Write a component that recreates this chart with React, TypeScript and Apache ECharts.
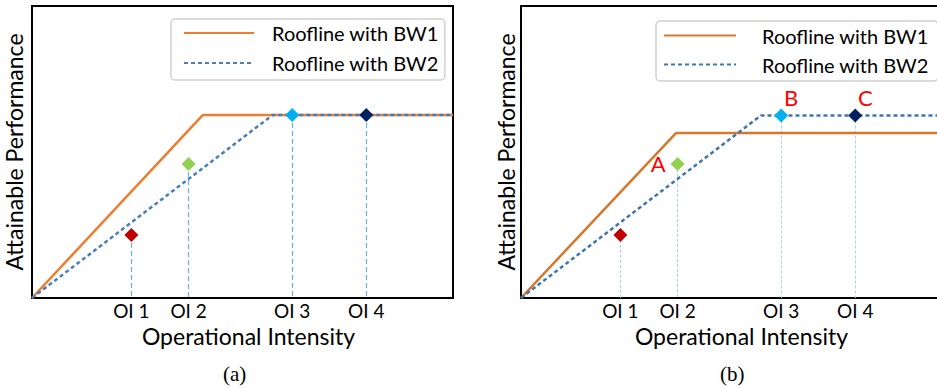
import React, { useEffect, useRef } from "react";
import * as echarts from "echarts";

const oiLabels = ["OI 1", "OI 2", "OI 3", "OI 4"];
const oiX = [2.36, 3.72, 6.18, 7.94];
const pointYa = [2.16, 4.59, 6.27, 6.27];
const pointYb = [2.16, 4.59, 6.25, 6.25];
const markerColors = ["#c00000", "#92d050", "#00b0f0", "#002060"];
const pointTagsB = ["", "A", "B", "C"];

const bw1A: number[][] = [[0, 0], [4.06, 6.27], [10, 6.27]];
const bw2A: number[][] = [[0, 0], [5.72, 6.27], [10, 6.27]];
const bw1B: number[][] = [[0, 0], [3.68, 5.65], [10, 5.65]];
const bw2B: number[][] = [[0, 0], [5.7, 6.25], [10, 6.25]];

const seriesNames = ["Roofline with BW1", "Roofline with BW2"];
const suffixB = " (b)";

const FONT = "Lato";

export default function App() {
  const ref = useRef<HTMLDivElement>(null);
  useEffect(() => {
    if (!ref.current) return;
    const chart = echarts.init(ref.current, undefined, { renderer: "svg" });

    const grids = [
      { left: 32, top: 6, width: 421, height: 292 },
      { left: 521, top: 6, width: 421, height: 292 },
    ].map((g) => ({
      ...g,
      show: true,
      outerBoundsMode: "none",
      containLabel: false,
      borderColor: "#000",
      borderWidth: 2,
      backgroundColor: "transparent",
    }));

    const xAxisBase = (gi: number, nameGap: number, namePad: number) => ({
      type: "value",
      gridIndex: gi,
      min: 0,
      max: 10,
      axisLine: { show: false },
      axisTick: { show: false },
      splitLine: { show: false },
      axisLabel: {
        customValues: oiX,
        formatter: (v: number) => {
          const i = oiX.findIndex((x) => Math.abs(x - v) < 1e-6);
          return i >= 0 ? oiLabels[i] : "";
        },
        fontFamily: FONT,
        fontSize: 19,
        color: "#000",
        margin: 3,
      },
      name: "Operational Intensity",
      nameLocation: "middle",
      nameGap,
      nameTextStyle: {
        fontFamily: FONT,
        fontSize: 23,
        color: "#000",
        padding: [0, 0, 0, namePad],
      },
    });

    const yAxisBase = (gi: number, nameGap: number) => ({
      type: "value",
      gridIndex: gi,
      min: 0,
      max: 10,
      axisLine: { show: false },
      axisTick: { show: false },
      splitLine: { show: false },
      axisLabel: { show: false },
      name: "Attainable Performance",
      nameLocation: "middle",
      nameGap,
      nameTextStyle: { fontFamily: FONT, fontSize: 23, color: "#000" },
    });

    const roof = (
      name: string,
      gi: number,
      data: number[][],
      color: string,
      dashed: boolean
    ) => ({
      type: "line",
      name,
      xAxisIndex: gi,
      yAxisIndex: gi,
      data,
      symbol: "none",
      z: dashed ? 3 : 2,
      lineStyle: {
        color,
        width: 2.5,
        type: dashed ? [4, 3] : "solid",
      },
      itemStyle: { color },
    });

    const tagLabel = (text: string, pos: "left" | "top") =>
      pos === "left"
        ? {
            show: true,
            position: "left",
            distance: 5,
            formatter: text,
            color: "#ff0000",
            fontFamily: FONT,
            fontSize: 22,
          }
        : {
            show: true,
            position: "top",
            distance: 0,
            offset: [10, 0],
            formatter: text,
            color: "#ff0000",
            fontFamily: FONT,
            fontSize: 22,
          };

    const points = (
      gi: number,
      ys: number[],
      dropColor: string,
      dropWidth: number,
      dash: number[],
      tags: string[] | null
    ) => ({
      type: "scatter",
      xAxisIndex: gi,
      yAxisIndex: gi,
      symbol: "diamond",
      symbolSize: 14,
      z: 5,
      data: oiX.map((x, i) => ({
        value: [x, ys[i]],
        itemStyle: { color: markerColors[i], opacity: 1 },
        label:
          tags && tags[i]
            ? tagLabel(tags[i], i === 1 ? "left" : "top")
            : { show: false },
      })),
      markLine: {
        silent: true,
        symbol: "none",
        z: 1,
        label: { show: false },
        lineStyle: { color: dropColor, width: dropWidth, type: dash, opacity: 1 },
        data: oiX.map((x, i) => [
          { coord: [x, ys[i]] },
          { coord: [x, 0] },
        ]),
      },
    });

    const legendBase = {
      orient: "vertical",
      selectedMode: false,
      itemWidth: 70,
      itemHeight: 14,
      itemGap: 4,
      backgroundColor: "#fff",
      borderColor: "#d0d0d0",
      borderWidth: 1.5,
      borderRadius: 4,
      itemStyle: { opacity: 0 },
    };

    const option: any = {
      animation: false,
      grid: grids,
      xAxis: [xAxisBase(0, 23, 12), xAxisBase(1, 20, 20)],
      yAxis: [yAxisBase(0, 7), yAxisBase(1, 4)],
      legend: [
        {
          ...legendBase,
          left: 171,
          top: 19,
          padding: [1, 6, 4, 12],
          data: seriesNames,
          textStyle: {
            fontFamily: FONT,
            fontSize: 20,
            color: "#000",
            lineHeight: 26,
            padding: [0, 0, 0, 13],
          },
        },
        {
          ...legendBase,
          left: 656,
          top: 21,
          padding: [2, 9, 4, 7],
          itemWidth: 72,
          data: seriesNames.map((n) => n + suffixB),
          formatter: (n: string) => n.replace(suffixB, ""),
          textStyle: {
            fontFamily: FONT,
            fontSize: 20,
            color: "#000",
            lineHeight: 25,
            padding: [0, 0, 0, 21],
          },
        },
      ],
      graphic: [
        {
          type: "text",
          left: 223,
          top: 363,
          style: {
            text: "(a)",
            font: '21px "Liberation Serif"',
            fill: "#000",
          },
        },
        {
          type: "text",
          left: 720,
          top: 363,
          style: {
            text: "(b)",
            font: '21px "Liberation Serif"',
            fill: "#000",
          },
        },
      ],
      series: [
        roof(seriesNames[0], 0, bw1A, "#ed7d31", false),
        roof(seriesNames[1], 0, bw2A, "#4a7ebb", true),
        points(0, pointYa, "#6fade6", 1.2, [5, 3], null),
        roof(seriesNames[0] + suffixB, 1, bw1B, "#d6772c", false),
        roof(seriesNames[1] + suffixB, 1, bw2B, "#3f76ad", true),
        points(1, pointYb, "#a9d0f0", 1, [3, 2], pointTagsB),
      ],
    };

    chart.setOption(option);
    return () => chart.dispose();
  }, []);

  return (
    <div
      ref={ref}
      style={{
        position: "fixed",
        left: 0,
        top: 0,
        width: 937,
        height: 388,
        background: "#fff",
      }}
    />
  );
}
